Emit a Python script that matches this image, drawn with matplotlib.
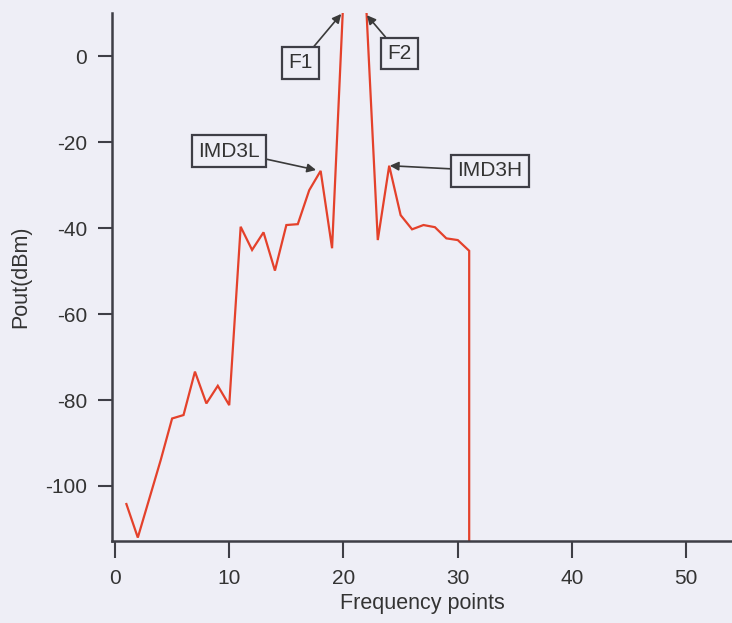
import matplotlib
matplotlib.use("Agg")
import matplotlib.pyplot as plt

plt.rcParams['font.family'] = ['Liberation Sans', 'DejaVu Sans']
plt.rcParams['axes.unicode_minus'] = False

# Two-tone output spectrum (the sweep ends with a drop at the last point)
freq_points = [1, 2, 3, 4, 5, 6, 7, 8, 9, 10,
               11, 12, 13, 14, 15, 16, 17, 18, 19, 20,
               21, 22, 23, 24, 25, 26, 27, 28, 29, 30,
               31, 31]
pout_dbm = [-104.2, -112.0, -103.0, -94.0, -84.3, -83.5, -73.4, -80.8, -76.7, -81.2,
            -39.7, -45.1, -41.0, -49.9, -39.3, -39.1, -31.2, -26.7, -44.7, 14.0,
            12.0, 11.0, -42.8, -25.5, -37.0, -40.3, -39.3, -39.8, -42.4, -42.8,
            -45.3, -113.0]

x_ticks = [0, 10, 20, 30, 40, 50]
y_ticks = [0, -20, -40, -60, -80, -100]

# Annotated tones: label, arrow target (x, y), label centre (x, y)
labels = ["F1", "F2", "IMD3L", "IMD3H"]
targets = [(19.8, 9.8), (22.05, 9.5), (17.6, -26.5), (24.05, -25.5)]
label_pos = [(16.2, -1.6), (24.9, 0.6), (10.0, -22.1), (32.8, -26.7)]

bg = '#EEEEF6'
axis_col = '#3E3E46'
text_col = '#333333'

fig = plt.figure(figsize=(7.32, 6.23), dpi=100, facecolor=bg)
ax = fig.add_axes([0.153, 0.1316, 0.847, 0.8474], facecolor=bg)

ax.plot(freq_points, pout_dbm, color='#E4412B', lw=1.6, solid_joinstyle='miter')

ax.set_xlim(-0.26, 54.0)
ax.set_ylim(-112.8, 10.0)
ax.set_xticks(x_ticks)
ax.set_yticks(y_ticks)

for side in ('top', 'right'):
    ax.spines[side].set_visible(False)
for side in ('left', 'bottom'):
    ax.spines[side].set_color(axis_col)
    ax.spines[side].set_linewidth(1.8)

ax.tick_params(axis='x', direction='out', length=12, width=1.5, color=axis_col,
               labelsize=15, labelcolor=text_col, pad=8)
ax.tick_params(axis='y', direction='out', length=10, width=1.5, color=axis_col,
               labelsize=15, labelcolor=text_col, pad=8)

ax.set_xlabel("Frequency points", fontsize=15.5, color=text_col, labelpad=4)
ax.set_ylabel("Pout(dBm)", fontsize=15.5, color=text_col, labelpad=10)

for text, tgt, pos in zip(labels, targets, label_pos):
    ax.annotate(text, xy=tgt, xytext=pos, xycoords='data', textcoords='data',
                ha='center', va='center', fontsize=15, color=text_col,
                bbox=dict(boxstyle='square,pad=0.3', fc='none', ec=axis_col, lw=1.6),
                arrowprops=dict(arrowstyle='-|>', color='#3A3A3A', lw=1.2,
                                mutation_scale=13, shrinkA=0, shrinkB=0))

fig.savefig("out.png", dpi=100, facecolor=bg)
